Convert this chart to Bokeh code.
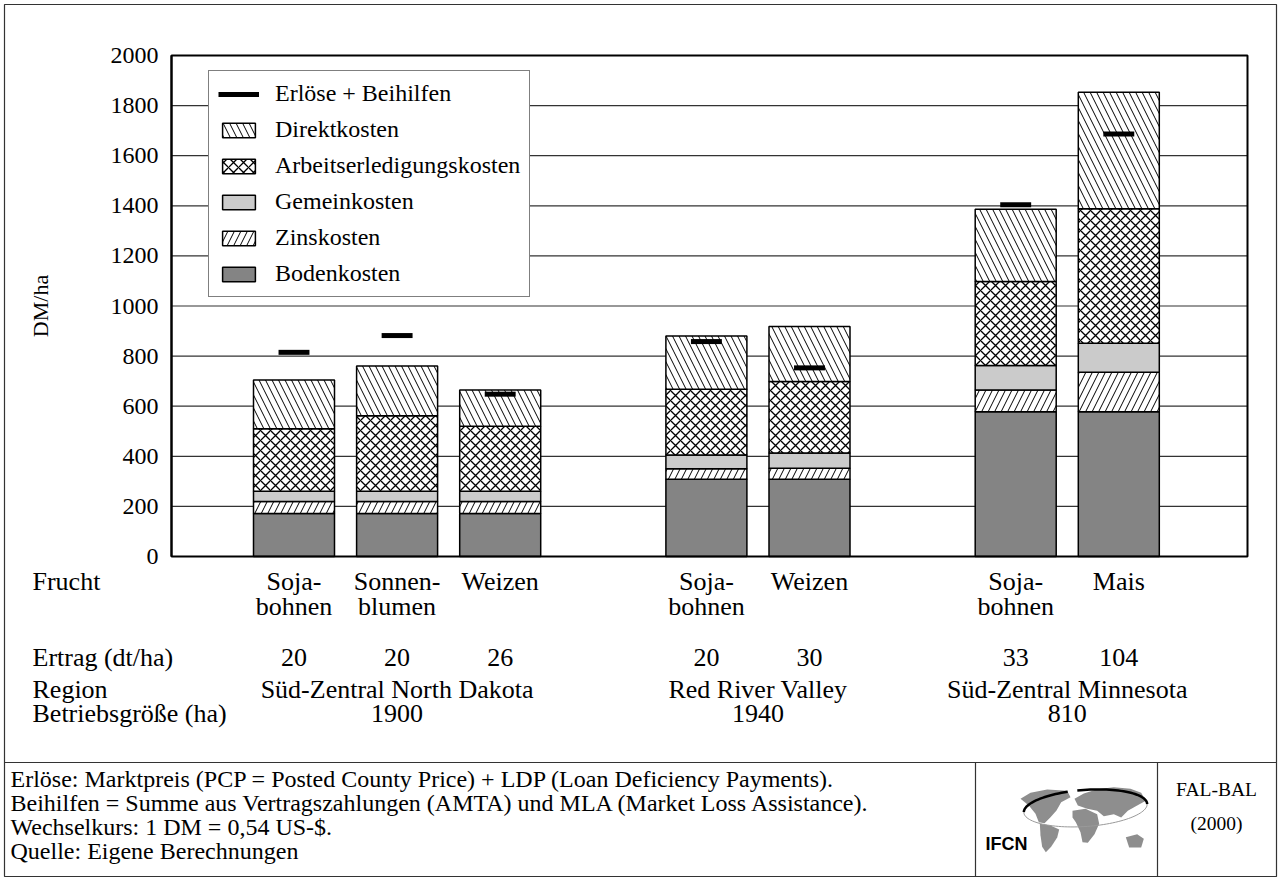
import numpy as np
from bokeh.plotting import figure
from bokeh.models import Range1d, FixedTicker, Legend, LegendItem
from bokeh.core.properties import value
from bokeh.embed import file_html
from bokeh.resources import INLINE

# ---------------- data ----------------
crops_line1 = ["Soja-", "Sonnen-", "Weizen", "Soja-", "Weizen", "Soja-", "Mais"]
crops_line2 = ["bohnen", "blumen", "", "bohnen", "", "bohnen", ""]
group_sizes = [3, 2, 2]
ertrag = ["20", "20", "26", "20", "30", "33", "104"]
regions = ["Süd-Zentral North Dakota", "Red River Valley", "Süd-Zentral Minnesota"]
betriebsgroesse = ["1900", "1940", "810"]
row_labels = ["Frucht", "Ertrag (dt/ha)", "Region", "Betriebsgröße (ha)"]

bodenkosten = [172, 172, 172, 308, 308, 578, 578]
zinskosten = [48, 48, 48, 42, 44, 87, 158]
gemeinkosten = [40, 40, 40, 55, 61, 97, 115]
arbeitskosten = [250, 302, 260, 263, 286, 336, 537]
direktkosten = [195, 198, 145, 212, 219, 288, 465]
erloese_beihilfen = [815, 882, 648, 858, 753, 1404, 1687]

y_ticks = [0, 200, 400, 600, 800, 1000, 1200, 1400, 1600, 1800, 2000]

footer_lines = [
    "Erlöse: Marktpreis (PCP = Posted County Price) + LDP (Loan Deficiency Payments).",
    "Beihilfen = Summe aus Vertragszahlungen (AMTA) und MLA (Market Loss Assistance).",
    "Wechselkurs: 1 DM = 0,54 US-$.",
    "Quelle: Eigene Berechnungen",
]
source_lines = ["FAL-BAL", "(2000)"]

# ---------------- layout constants (page pixels) ----------------
SERIF = "Liberation Serif"
W, H = 1280, 880
M = 4                                     # frame inset = outer border
PL, PR, PT, PB = 171, 1247, 55, 556       # plot box edges on the page
PITCH = 103.1                             # px per slot
SLOT0 = 293.5                             # page x of slot 0
Y_MAX = 2000
PXU = (PB - PT) / Y_MAX                   # px per DM/ha

pos = []
groups = []
slot = 0
for g in group_sizes:
    members = []
    for _ in range(g):
        pos.append(slot)
        members.append(slot)
        slot += 1
    groups.append(members)
    slot += 1
pos = np.array(pos, dtype=float)
group_center = [float(np.mean(m)) for m in groups]


def to_slot(px):
    return (px - SLOT0) / PITCH


box_left, box_right = to_slot(PL), to_slot(PR)

p = figure(width=W, height=H, output_backend="svg", toolbar_location=None,
           x_range=Range1d(to_slot(M), to_slot(W - M)),
           y_range=Range1d(-(H - M - PB) / PXU, Y_MAX + (PT - M) / PXU),
           x_axis_location=None, y_axis_location="left",
           min_border_left=M, min_border_right=M, min_border_top=M,
           min_border_bottom=M)
p.extra_x_ranges = {"px": Range1d(M, W - M)}
p.extra_y_ranges = {"px": Range1d(H - M, M)}
p.background_fill_color = "white"
p.border_fill_color = "white"
p.outline_line_color = "#333333"
p.outline_line_width = 1.2
p.grid.visible = False

ax = p.yaxis[0]
ax.fixed_location = box_left
ax.bounds = (0, Y_MAX)
ax.ticker = FixedTicker(ticks=y_ticks)
ax.axis_line_color = "black"
ax.axis_line_width = 2
ax.major_tick_line_color = None
ax.minor_tick_line_color = None
ax.major_tick_out = 0
ax.major_tick_in = 0
ax.minor_tick_out = 0
ax.minor_tick_in = 0
ax.major_label_text_font = SERIF
ax.major_label_text_font_size = "24px"
ax.major_label_text_color = "black"
ax.major_label_standoff = 13
ax.axis_label = "DM/ha"
ax.axis_label_text_font = SERIF
ax.axis_label_text_font_size = "22px"
ax.axis_label_text_font_style = "normal"
ax.axis_label_text_color = "black"
ax.axis_label_standoff = 55

# horizontal grid lines inside the plot box
p.segment(x0=box_left, x1=box_right, y0=y_ticks, y1=y_ticks,
          line_color="#333333", line_width=1.2, level="underlay")

# ---------------- stacked bars ----------------
BAR_W = 81 / PITCH
hatch = dict(hatch_color="black")
layers = [
    ("Bodenkosten", bodenkosten, dict(fill_color="#848484")),
    ("Zinskosten", zinskosten, dict(fill_color="white", hatch_pattern="/",
                                    hatch_scale=13, hatch_weight=1, **hatch)),
    ("Gemeinkosten", gemeinkosten, dict(fill_color="#cbcbcb")),
    ("Arbeitserledigungskosten", arbeitskosten,
     dict(fill_color="white", hatch_pattern="x", hatch_scale=10, hatch_weight=1.3,
          **hatch)),
    ("Direktkosten", direktkosten, dict(fill_color="white", hatch_pattern="\\",
                                        hatch_scale=13, hatch_weight=1, **hatch)),
]
renderers = {}
bottom = np.zeros(len(pos))
for name, vals, style in layers:
    vals = np.array(vals, dtype=float)
    renderers[name] = p.vbar(x=pos, bottom=bottom, top=bottom + vals, width=BAR_W,
                             line_color="black", line_width=1.5, **style)
    bottom = bottom + vals

MARK_HALF = 0.15
mark = p.segment(x0=pos - MARK_HALF, x1=pos + MARK_HALF,
                 y0=erloese_beihilfen, y1=erloese_beihilfen,
                 line_color="black", line_width=5, line_cap="butt")

# plot box
p.quad(left=box_left, right=box_right, bottom=0, top=Y_MAX,
       fill_color=None, line_color="black", line_width=2)

legend = Legend(items=[
    LegendItem(label="Erlöse + Beihilfen", renderers=[mark]),
    LegendItem(label="Direktkosten", renderers=[renderers["Direktkosten"]]),
    LegendItem(label="Arbeitserledigungskosten",
               renderers=[renderers["Arbeitserledigungskosten"]]),
    LegendItem(label="Gemeinkosten", renderers=[renderers["Gemeinkosten"]]),
    LegendItem(label="Zinskosten", renderers=[renderers["Zinskosten"]]),
    LegendItem(label="Bodenkosten", renderers=[renderers["Bodenkosten"]]),
], location=(208 - M, H - M - 297))
legend.border_line_color = "black"
legend.border_line_width = 1
legend.background_fill_color = "white"
legend.background_fill_alpha = 1
legend.padding = 9
legend.spacing = 9
legend.margin = 0
legend.glyph_width = 41
legend.glyph_height = 18
legend.label_standoff = 16
legend.label_text_font = SERIF
legend.label_text_font_size = "24px"
legend.label_text_color = "black"
p.add_layout(legend)


# ---------------- texts below the chart and footer ----------------
def txt(xs, ys, texts, align="left", size="26px", font=SERIF, style="normal",
        xr="px"):
    p.text(x=list(xs), y=list(ys), text=list(texts), text_align=align,
           text_baseline="middle", text_font=value(font),
           text_font_size=value(size), text_font_style=style,
           text_color="black", x_range_name=xr, y_range_name="px")


ROW_CROP1, ROW_CROP2, ROW_ERTRAG, ROW_REGION, ROW_SIZE = 581, 606, 657, 689, 713
txt([32] * 4, [ROW_CROP1, ROW_ERTRAG, ROW_REGION, ROW_SIZE], row_labels)
txt(pos, [ROW_CROP1] * len(pos), crops_line1, align="center", xr="default")
two = [i for i, s in enumerate(crops_line2) if s]
txt(pos[two], [ROW_CROP2] * len(two), [crops_line2[i] for i in two],
    align="center", xr="default")
txt(pos, [ROW_ERTRAG] * len(pos), ertrag, align="center", xr="default")
txt(group_center, [ROW_REGION] * 3, regions, align="center", xr="default")
txt(group_center, [ROW_SIZE] * 3, betriebsgroesse, align="center", xr="default")

txt([10] * len(footer_lines), [778 + i * 24.3 for i in range(len(footer_lines))],
    footer_lines, size="24px")
txt([1216, 1216], [789, 823], source_lines, align="center", size="19.5px")
txt([985], [843], ["IFCN"], size="18px", font="Liberation Sans", style="bold")

# footer rules
p.segment(x0=[M, 975, 1157], x1=[W - M, 975, 1157], y0=[762, 762, 762],
          y1=[762, H - M, H - M], line_color="#333333", line_width=1.2,
          x_range_name="px", y_range_name="px")


# IFCN logo: rough world map with an orbit
def logo(pts):
    return ([970 + a / 3.0 for a, b in pts], [755 + b / 3.0 for a, b in pts])


continents = [
    [(150, 130), (180, 112), (230, 102), (290, 106), (300, 125), (272, 140), (258, 165),
     (240, 185), (222, 203), (205, 200), (195, 175), (175, 150)],
    [(208, 205), (240, 210), (266, 222), (260, 246), (242, 274), (226, 290), (215, 274),
     (210, 240)],
    [(312, 130), (340, 114), (380, 101), (430, 95), (480, 100), (512, 112), (526, 136),
     (500, 150), (472, 166), (452, 186), (430, 176), (400, 182), (380, 166), (350, 160),
     (322, 150)],
    [(306, 166), (345, 160), (380, 176), (386, 205), (372, 236), (352, 262), (336, 260),
     (330, 230), (316, 200), (306, 186)],
    [(466, 245), (500, 236), (520, 250), (512, 276), (476, 276)],
]
cx, cy = [], []
for c in continents:
    a, b = logo(c)
    cx.append(a)
    cy.append(b)
p.patches(xs=cx, ys=cy, fill_color="#8e8e8e", line_color=None,
          x_range_name="px", y_range_name="px")

ang = np.linspace(np.pi, 0, 60)
ux = 345 + 185 * np.cos(ang)
uy = 158 - 55 * np.sin(ang) - 12 * np.cos(ang)
for m in (ux < 292, ux > 312):
    a, b = logo(list(zip(ux[m], uy[m])))
    p.line(a, b, line_color="black", line_width=2.5, x_range_name="px", y_range_name="px")
ang2 = np.linspace(np.pi, 2 * np.pi, 60)
lx = 345 + 185 * np.cos(ang2)
ly = 158 - 55 * np.sin(ang2) - 12 * np.cos(ang2)
a, b = logo(list(zip(lx, ly)))
p.line(a, b, line_color="#9a9a9a", line_width=1, x_range_name="px", y_range_name="px")

open("out.html", "w").write(file_html(p, INLINE))
